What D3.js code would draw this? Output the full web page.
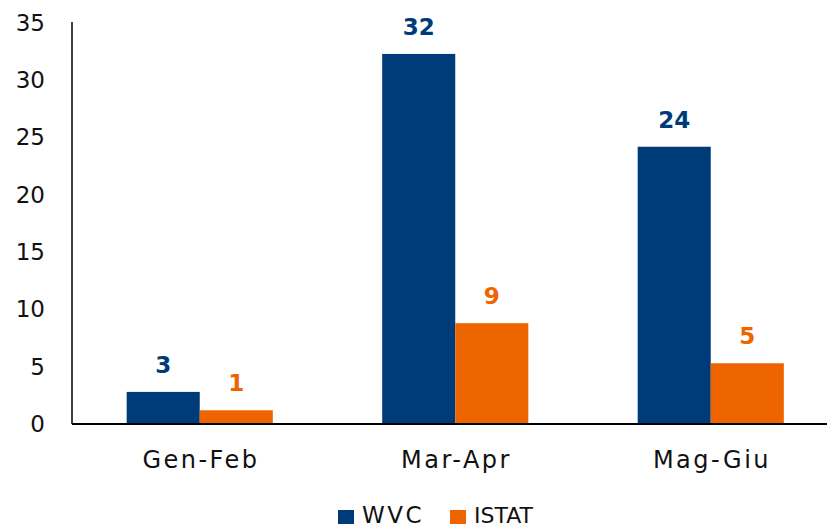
<!DOCTYPE html>
<html>
<head>
<meta charset="utf-8">
<script src="https://cdn.jsdelivr.net/npm/d3@7"></script>
<style>
  body { margin: 0; background: #fff; }
  svg text { font-family: "DejaVu Sans", sans-serif; }
</style>
</head>
<body>
<svg id="chart" width="827" height="528"></svg>
<script>
// periods on the x axis
const periods = ["Gen-Feb", "Mar-Apr", "Mag-Giu"];
const seriesNames = ["WVC", "ISTAT"];
const wvc = [2.8, 32.3, 24.2];
const istat = [1.2, 8.8, 5.3];
const labelsWvc = ["3", "32", "24"];
const labelsIstat = ["1", "9", "5"];
const yTicks = [0, 5, 10, 15, 20, 25, 30, 35];

const colors = { WVC: "#003b79", ISTAT: "#ee6500" };

const rows = periods.map((p, i) => ({
  period: p,
  values: [
    { key: "WVC", value: wvc[i], label: labelsWvc[i] },
    { key: "ISTAT", value: istat[i], label: labelsIstat[i] }
  ]
}));

const svg = d3.select("#chart");
const plotLeft = 72, plotBottom = 424, plotTop = 23;

const x0 = d3.scaleBand()
    .domain(periods)
    .range([plotLeft, plotLeft + 3 * 255.5])
    .paddingInner(0.428)
    .paddingOuter(0.214);

const x1 = d3.scaleBand()
    .domain(seriesNames)
    .range([0, x0.bandwidth()]);

const y = d3.scaleLinear()
    .domain([0, 35])
    .range([plotBottom, plotTop]);

// y axis, no tick marks
const yAxis = svg.append("g")
    .attr("transform", "translate(" + plotLeft + ",0)")
    .call(d3.axisLeft(y).tickValues(yTicks).tickSize(0).tickPadding(27));
yAxis.select(".domain").attr("stroke", "#000").attr("stroke-width", 1.5)
    .attr("d", "M0," + (plotTop - 1) + "V" + plotBottom);
yAxis.selectAll("text").attr("font-size", 23).attr("fill", "#111");

const groups = svg.selectAll(".grp")
    .data(rows)
  .enter().append("g")
    .attr("class", "grp")
    .attr("transform", function(d) { return "translate(" + x0(d.period) + ",0)"; });

groups.selectAll("rect")
    .data(function(d) { return d.values; })
  .enter().append("rect")
    .attr("x", function(d) { return x1(d.key); })
    .attr("width", x1.bandwidth())
    .attr("y", function(d) { return y(d.value); })
    .attr("height", function(d) { return plotBottom - y(d.value); })
    .attr("fill", function(d) { return colors[d.key]; });

groups.selectAll(".lbl")
    .data(function(d) { return d.values; })
  .enter().append("text")
    .attr("class", "lbl")
    .attr("x", function(d) { return x1(d.key) + x1.bandwidth() / 2; })
    .attr("y", function(d) { return y(d.value) - 19; })
    .attr("text-anchor", "middle")
    .attr("font-size", 23)
    .attr("font-weight", "bold")
    .attr("fill", function(d) { return colors[d.key]; })
    .text(function(d) { return d.label; });

// baseline
svg.append("line")
    .attr("x1", plotLeft).attr("x2", 827)
    .attr("y1", plotBottom).attr("y2", plotBottom)
    .attr("stroke", "#000").attr("stroke-width", 2);

// category labels (wide letters like the original font)
svg.selectAll(".cat")
    .data(periods)
  .enter().append("text")
    .attr("class", "cat")
    .attr("x", function(d) { return x0(d) + x0.bandwidth() / 2 + 1.25; })
    .attr("y", 468)
    .attr("text-anchor", "middle")
    .attr("font-size", 24)
    .attr("letter-spacing", 2.5)
    .attr("fill", "#111")
    .text(function(d) { return d; });

// legend
const legend = svg.append("g");
const legendX = [338, 450];
const legendSize = [23, 22];
const legendSpacing = [2.5, 0];
seriesNames.forEach(function(s, i) {
  legend.append("rect")
      .attr("x", legendX[i]).attr("y", 510)
      .attr("width", 16).attr("height", 14)
      .attr("fill", colors[s]);
  legend.append("text")
      .attr("x", legendX[i] + 24).attr("y", 523)
      .attr("font-size", legendSize[i])
      .attr("letter-spacing", legendSpacing[i])
      .attr("fill", "#111")
      .text(s);
});
</script>
</body>
</html>
